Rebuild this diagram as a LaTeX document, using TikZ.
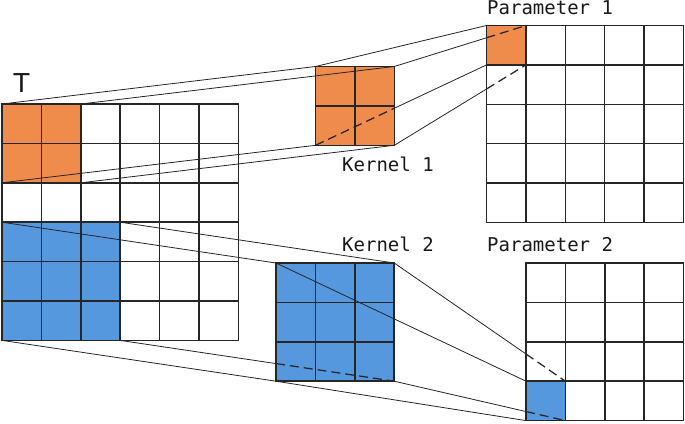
\documentclass[tikz,border=0pt]{standalone}
\usepackage{fontspec}
\newfontfamily\labelfont{DejaVu Sans Mono}
\newfontfamily\titlefont{DejaVu Sans}
\usetikzlibrary{calc}
\definecolor{kernOrange}{RGB}{240,140,75}
\definecolor{kernBlue}{RGB}{86,152,221}

\begin{document}
\begin{tikzpicture}[x=1pt,y=-1pt]
    \def\cell{39.4}

    \tikzstyle{gridline}=[line width=1.45pt,black!85,line cap=rect]
    \tikzstyle{proj}=[line width=0.8pt,black!85]
    \tikzstyle{hidden}=[proj,line width=1.25pt,dash pattern=on 9pt off 5pt]
    \tikzstyle{gridlabel}=[inner sep=0pt,anchor=base west,black!90,font=\labelfont\fontsize{19}{19}\selectfont]

    \newcommand\cellgrid[2]{%
      \foreach \i in {0,...,#2} {
        \draw[gridline] ($(#1)+(\i*\cell,0)$) -- ++(0,#2*\cell);
        \draw[gridline] ($(#1)+(0,\i*\cell)$) -- ++(#2*\cell,0);
      }}

    \useasboundingbox (0,0) rectangle (685,423);

    % Grid origins
    \coordinate (T) at (2,104);
    \coordinate (K1) at (315.5,66.5);
    \coordinate (P1) at (486.5,25.5);
    \coordinate (K2) at (276,263);
    \coordinate (P2) at (526,263);

    % Corners of the orange patch
    \coordinate (t1tr) at ($(T)+(2*\cell,0)$);
    \coordinate (t1bl) at ($(T)+(0,2*\cell)$);
    \coordinate (t1br) at ($(T)+(2*\cell,2*\cell)$);
    \coordinate (k1tr) at ($(K1)+(2*\cell,0)$);
    \coordinate (k1bl) at ($(K1)+(0,2*\cell)$);
    \coordinate (k1br) at ($(K1)+(2*\cell,2*\cell)$);
    \coordinate (p1tr) at ($(P1)+(\cell,0)$);
    \coordinate (p1bl) at ($(P1)+(0,\cell)$);
    \coordinate (p1br) at ($(P1)+(\cell,\cell)$);
    \coordinate (p1end) at ($(P1)+(0,5*\cell)$);

    % Corners of the blue patch
    \coordinate (t2tl) at ($(T)+(0,3*\cell)$);
    \coordinate (t2tr) at ($(T)+(3*\cell,3*\cell)$);
    \coordinate (t2bl) at ($(T)+(0,6*\cell)$);
    \coordinate (t2br) at ($(T)+(3*\cell,6*\cell)$);
    \coordinate (k2tr) at ($(K2)+(3*\cell,0)$);
    \coordinate (k2bl) at ($(K2)+(0,3*\cell)$);
    \coordinate (k2br) at ($(K2)+(3*\cell,3*\cell)$);
    \coordinate (p2tl) at ($(P2)+(0,3*\cell)$);
    \coordinate (p2tr) at ($(P2)+(\cell,3*\cell)$);
    \coordinate (p2bl) at ($(P2)+(0,4*\cell)$);
    \coordinate (p2br) at ($(P2)+(\cell,4*\cell)$);

    % Fills
    \fill[kernOrange] (T) rectangle (t1br);
    \fill[kernOrange] (K1) rectangle (k1br);
    \fill[kernOrange] (P1) rectangle (p1br);
    \fill[kernBlue] (t2tl) rectangle (t2br);
    \fill[kernBlue] (K2) rectangle (k2br);
    \fill[kernBlue] (p2tl) rectangle (p2br);

    % Grids
    \cellgrid{T}{6}
    \cellgrid{K1}{2}
    \cellgrid{P1}{5}
    \cellgrid{K2}{3}
    \cellgrid{P2}{4}

    % Where the edges go behind a plane
    \coordinate (h1) at (intersection of k1tr--p1tr and P1--p1end);
    \coordinate (h2) at (intersection of k1bl--p1bl and k1tr--k1br);
    \coordinate (h3) at (intersection of k1br--p1br and P1--p1end);
    \coordinate (h4) at (intersection of k2tr--p2tr and P2--p2tl);
    \coordinate (h5) at (intersection of t2br--k2br and K2--k2bl);
    \coordinate (h6) at (intersection of k2br--p2br and P2--p2bl);

    % Kernel 1 projection
    \draw[proj] (T) -- (K1) -- (P1);
    \draw[proj] (t1tr) -- (k1tr) -- (h1);
    \draw[hidden] (h1) -- (p1tr);
    \draw[proj] (t1bl) -- (k1bl);
    \draw[hidden] (k1bl) -- (h2);
    \draw[proj] (h2) -- (p1bl);
    \draw[proj] (t1br) -- (k1br) -- (h3);
    \draw[hidden] (h3) -- (p1br);

    % Kernel 2 projection
    \draw[proj] (t2tl) -- (K2) -- (p2tl);
    \draw[proj] (t2tr) -- (k2tr) -- (h4);
    \draw[hidden] (h4) -- (p2tr);
    \draw[proj] (t2bl) -- (k2bl) -- (p2bl);
    \draw[proj] (t2br) -- (h5);
    \draw[hidden] (h5) -- (k2br);
    \draw[proj] (k2br) -- (h6);
    \draw[hidden] (h6) -- (p2br);

    % Labels
    \node[inner sep=0pt,anchor=base,black!90,font=\titlefont\fontsize{26}{26}\selectfont] (lblT) at (21.5,92.3) {T};
    \node[gridlabel] (lblK1) at (342,171.7) {Kernel 1};
    \node[gridlabel] (lblK2) at (342,251.7) {Kernel 2};
    \node[gridlabel] (lblP1) at (487,14.3) {Parameter 1};
    \node[gridlabel] (lblP2) at (487,251.7) {Parameter 2};
\end{tikzpicture}
\end{document}
